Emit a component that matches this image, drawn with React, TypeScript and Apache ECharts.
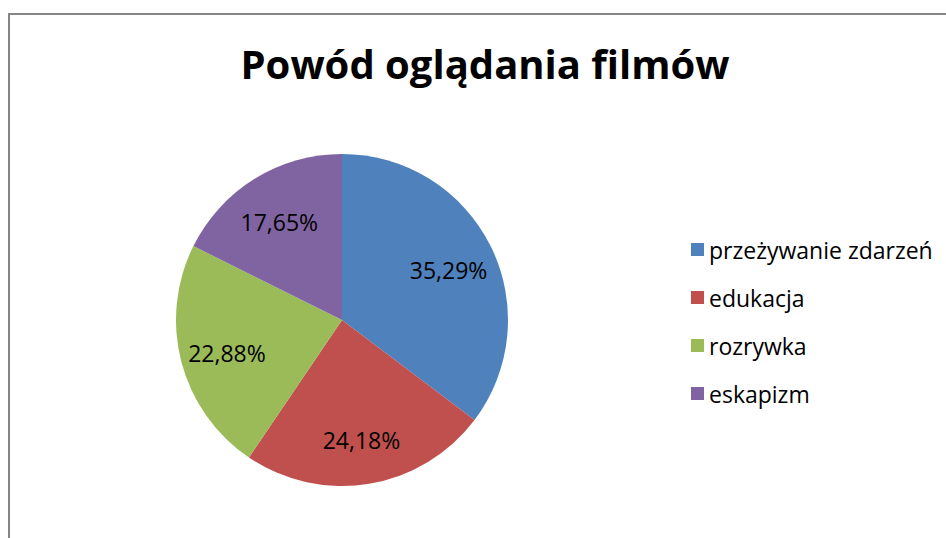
import React, { useEffect, useRef } from "react";
import * as echarts from "echarts";

const title = "Powód oglądania filmów";
const categories = ["przeżywanie zdarzeń", "edukacja", "rozrywka", "eskapizm"];
const values = [35.29, 24.18, 22.88, 17.65];
const labels = ["35,29%", "24,18%", "22,88%", "17,65%"];
const colors = ["#4F81BD", "#C0504D", "#9BBB59", "#8064A2"];

const FONT = "'Open Sans', 'Noto Sans', sans-serif";

export default function App() {
  const ref = useRef<HTMLDivElement>(null);
  useEffect(() => {
    document.body.style.margin = "0";
    const chart = echarts.init(ref.current!, null, { renderer: "svg" });
    const data = categories.map((name, i) => ({
      name,
      value: values[i],
      itemStyle: { color: colors[i] },
    }));
    const labelData = categories.map((name, i) => ({
      name,
      value: values[i],
      label: { formatter: labels[i] },
    }));
    chart.setOption({
      animation: false,
      backgroundColor: "#ffffff",
      title: {
        text: title,
        left: 480,
        textAlign: "center",
        top: 38,
        textStyle: { fontFamily: FONT, fontWeight: "bold", fontSize: 40, color: "#000" },
      },
      legend: {
        orient: "vertical",
        left: 686,
        top: 233,
        icon: "rect",
        itemWidth: 13,
        itemHeight: 13,
        itemGap: 25,
        data: categories,
        selectedMode: false,
        textStyle: { fontFamily: FONT, fontSize: 23, lineHeight: 23, color: "#000" },
      },
      graphic: [
        {
          type: "rect",
          shape: { x: 9, y: 14, width: 1000, height: 600 },
          style: { fill: "none", stroke: "#868686", lineWidth: 2 },
          silent: true,
        },
      ],
      series: [
        {
          type: "pie",
          center: [342, 320],
          radius: [0, 166],
          startAngle: 90,
          clockwise: true,
          label: { show: false },
          labelLine: { show: false },
          emphasis: { disabled: true },
          data,
        },
        {
          type: "pie",
          center: [342, 320],
          radius: [66, 166],
          startAngle: 90,
          clockwise: true,
          silent: true,
          itemStyle: { color: "rgba(0,0,0,0)" },
          label: {
            show: true,
            position: "inside",
            fontFamily: FONT,
            fontSize: 23,
            color: "#000",
            offset: [0, 3],
          },
          labelLine: { show: false },
          emphasis: { disabled: true },
          data: labelData,
        },
      ],
    });
    return () => chart.dispose();
  }, []);
  return <div ref={ref} style={{ width: 946, height: 538 }} />;
}
